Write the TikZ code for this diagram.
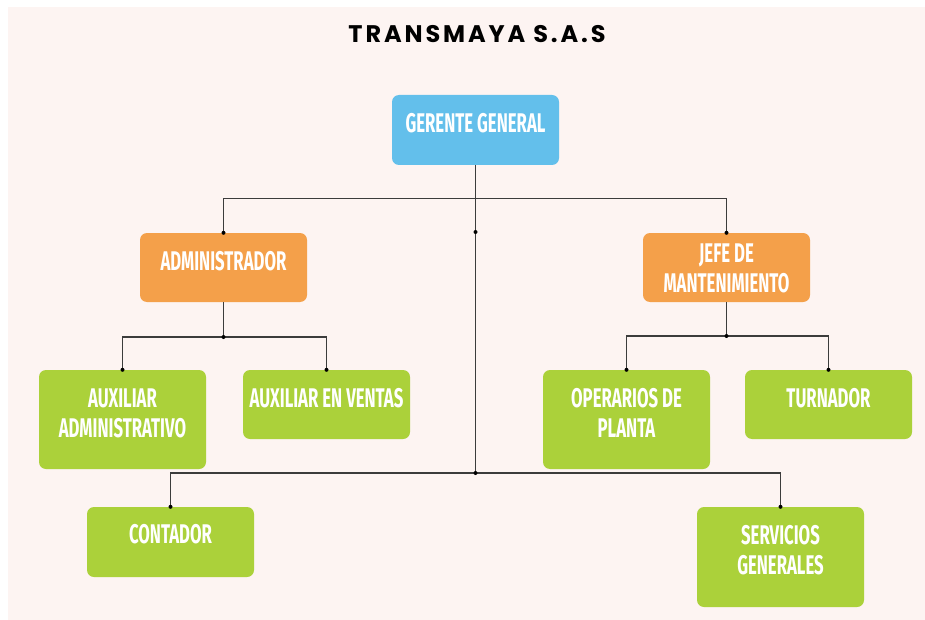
\documentclass[tikz,border=0pt]{standalone}
\usepackage{fontspec}
\newfontfamily\titlefont[LetterSpace=12]{Poppins}
\newfontfamily\boxfont[FakeStretch=0.62]{Fira Sans}
\definecolor{bgpink}{RGB}{253,244,242}
\definecolor{cblue}{RGB}{99,191,235}
\definecolor{corange}{RGB}{244,160,74}
\definecolor{cgreen}{RGB}{171,209,58}
\definecolor{cline}{RGB}{60,60,60}
\tikzset{
  box/.style={rounded corners=7pt, minimum width=167pt, inner sep=0pt},
  bluebox/.style={box, fill=cblue},
  orangebox/.style={box, fill=corange},
  greenbox/.style={box, fill=cgreen},
  lbl/.style={text=white, align=center, inner sep=0pt, font=\boxfont\bfseries\fontsize{27}{30}\selectfont},
  conn/.style={draw=cline, line width=1.4pt},
  dot/.style={fill=black}
}
\begin{document}
\begin{tikzpicture}[x=1pt,y=-1pt]
\useasboundingbox (0,0) rectangle (925,620);
\fill[bgpink] (8,7) rectangle (925,620);

\node[font=\titlefont\bfseries\fontsize{24}{28}\selectfont] (title) at (477,34) {TRANSMAYA S.A.S};

% boxes
\node[bluebox, minimum height=70pt] (gg) at (475.5,130) {};
\node[orangebox, minimum height=69pt] (adm) at (223.5,267.5) {};
\node[orangebox, minimum height=69pt] (jefe) at (726.5,267.5) {};
\node[greenbox, minimum height=99pt] (auxadm) at (122.5,419.5) {};
\node[greenbox, minimum height=69pt] (auxven) at (326.5,404.5) {};
\node[greenbox, minimum height=99pt] (oper) at (626.5,419.5) {};
\node[greenbox, minimum height=69pt] (turn) at (828.5,404.5) {};
\node[greenbox, minimum height=70pt] (cont) at (170.5,542) {};
\node[greenbox, minimum height=100pt] (serv) at (780.5,557) {};

% labels
\node[lbl] (tgg) at ([yshift=6.5pt]gg.center) {GERENTE GENERAL};
\node[lbl] (tadm) at ([yshift=6.5pt]adm.center) {ADMINISTRADOR};
\node[lbl] (tjefe) at ([yshift=-1pt]jefe.center) {JEFE DE\\MANTENIMIENTO};
\node[lbl] (tauxadm) at ([yshift=6.5pt]auxadm.center) {AUXILIAR\\ADMINISTRATIVO};
\node[lbl] (tauxven) at ([yshift=6.5pt]auxven.center) {AUXILIAR EN VENTAS};
\node[lbl] (toper) at ([yshift=6.5pt]oper.center) {OPERARIOS DE\\PLANTA};
\node[lbl] (tturn) at ([yshift=6.5pt]turn.center) {TURNADOR};
\node[lbl] (tcont) at ([yshift=7.5pt]cont.center) {CONTADOR};
\node[lbl] (tserv) at ([yshift=7pt]serv.center) {SERVICIOS\\GENERALES};

% coordinates
\coordinate (trunkdot) at (475.5,232);
\coordinate (trunkend) at (475.5,473);
\coordinate (admj) at (223.5,337);
\coordinate (jefej) at (726.5,336);

% connectors
\draw[conn] (gg.south) -- (trunkend);
\draw[conn] (adm.north) -- ++(0,-34) -| (jefe.north);
\draw[conn] (adm.south) -- (admj);
\draw[conn] (auxadm.north) -- ++(0,-33) -| (auxven.north);
\draw[conn] (jefe.south) -- (jefej);
\draw[conn] (oper.north) -- ++(0,-34) -| (turn.north);
\draw[conn] (cont.north) -- ++(0,-34) -| (serv.north);

% dots
\foreach \p in {trunkdot,trunkend,admj,jefej,adm.north,jefe.north,auxadm.north,auxven.north,oper.north,turn.north,cont.north,serv.north}
  \fill[dot] (\p) circle (2pt);
\end{tikzpicture}
\end{document}
